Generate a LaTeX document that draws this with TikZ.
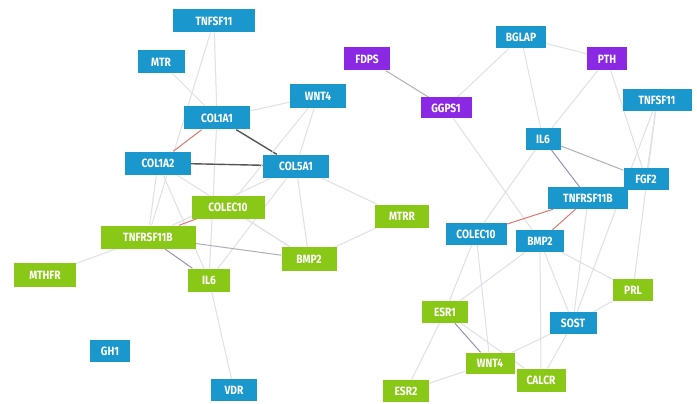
\documentclass[tikz,border=0pt]{standalone}
\usepackage{fontspec}
\newfontfamily\nodefont{Fira Sans}[FakeStretch=0.85]
\definecolor{nodeblue}{RGB}{26,152,206}
\definecolor{nodegreen}{RGB}{138,200,24}
\definecolor{nodepurple}{RGB}{138,40,228}
\definecolor{edgelight}{RGB}{224,224,230}
\definecolor{edgemid}{RGB}{175,175,185}
\definecolor{edgedark}{RGB}{85,85,90}
\definecolor{edgered}{RGB}{224,120,110}
\definecolor{edgepurp}{RGB}{155,145,180}
\pgfdeclarelayer{bg}
\pgfsetlayers{bg,main}
\begin{document}
\begin{tikzpicture}[x=1pt,y=-1pt,
  box/.style={draw=none, text=white, font=\nodefont\bfseries\fontsize{12}{12}\selectfont, minimum height=23pt, inner sep=2pt},
  bl/.style={box, fill=nodeblue},
  gr/.style={box, fill=nodegreen},
  pu/.style={box, fill=nodepurple},
  el/.style={draw=edgelight, line width=1pt},
  em/.style={draw=edgemid, line width=1pt},
  ed/.style={draw=edgedark, line width=1.4pt},
  er/.style={draw=edgered, line width=1pt},
  ep/.style={draw=edgepurp, line width=1pt}]
\useasboundingbox (0,0) rectangle (697,404);
% left cluster
\node[bl, minimum width=82pt] (tnfsfa) at (214,21) {TNFSF11};
\node[bl, minimum width=47pt] (mtr) at (161,62) {MTR};
\node[bl, minimum width=56pt, minimum height=24pt] (wnt4a) at (318,96) {WNT4};
\node[bl, minimum width=66pt] (col1a1) at (217,118) {COL1A1};
\node[bl, minimum width=66pt] (col1a2) at (158,163) {COL1A2};
\node[bl, minimum width=66pt] (col5a1) at (296,166) {COL5A1};
\node[gr, minimum width=73pt] (coleca) at (228,207) {COLEC10};
\node[gr, minimum width=95pt] (tnfrsfa) at (148,237) {TNFRSF11B};
\node[gr, minimum width=62pt, minimum height=24pt] (mthfr) at (45,275) {MTHFR};
\node[gr, minimum width=42pt] (il6a) at (209,280) {IL6};
\node[gr, minimum width=55pt, minimum height=24pt] (bmp2a) at (309,259) {BMP2};
\node[gr, minimum width=54pt] (mtrr) at (402,216) {MTRR};
\node[bl, minimum width=40pt, minimum height=22pt] (gh1) at (110,351) {GH1};
\node[bl, minimum width=46pt, minimum height=22pt] (vdr) at (234,390) {VDR};
% right cluster
\node[pu, minimum width=46pt] (fdps) at (367,59) {FDPS};
\node[pu, minimum width=51pt, minimum height=21pt] (ggps1) at (446,108) {GGPS1};
\node[bl, minimum width=50pt, minimum height=22pt] (bglap) at (521,37) {BGLAP};
\node[pu, minimum width=40pt] (pth) at (607,59) {PTH};
\node[bl, minimum width=69pt, minimum height=22pt] (tnfsfb) at (657,100) {TNFSF11};
\node[bl, minimum width=35pt, minimum height=22pt] (il6b) at (543,139) {IL6};
\node[bl, minimum width=45pt, minimum height=22pt] (fgf2) at (646,179) {FGF2};
\node[bl, minimum width=80pt, minimum height=22pt] (tnfrsfb) at (588,198) {TNFRSF11B};
\node[bl, minimum width=61pt, minimum height=22pt] (colecb) at (476,234) {COLEC10};
\node[bl, minimum width=48pt, minimum height=22pt] (bmp2b) at (540,241) {BMP2};
\node[gr, minimum width=40pt, minimum height=22pt] (prl) at (633,290) {PRL};
\node[gr, minimum width=46pt, minimum height=22pt] (esr1) at (445,312) {ESR1};
\node[bl, minimum width=47pt, minimum height=22pt] (sost) at (573,323) {SOST};
\node[gr, minimum width=49pt, minimum height=21pt] (wnt4b) at (490,363) {WNT4};
\node[gr, minimum width=49pt] (calcr) at (541,380) {CALCR};
\node[gr, minimum width=46pt, minimum height=22pt] (esr2) at (406,391) {ESR2};
\begin{pgfonlayer}{bg}
\fill[white] (0,0) rectangle (697,404);
% left edges
\draw[el] (tnfsfa) -- (col1a1);
\draw[el] (tnfsfa) -- (tnfrsfa);
\draw[el] (mtr) -- (col1a1);
\draw[el] (col1a1) -- (wnt4a);
\draw[el] (col1a1) -- (il6a);
\draw[er] (col1a1) -- (col1a2);
\draw[ed] (col1a1) -- (col5a1);
\draw[ed] (col1a2) -- (col5a1);
\draw[el] (col1a2) -- (tnfrsfa);
\draw[el] (col1a2) -- (bmp2a);
\draw[el] (col1a2) -- (il6a);
\draw[el] (col5a1) -- (bmp2a);
\draw[el] (col5a1) -- (mtrr);
\draw[el] (col5a1) -- (il6a);
\draw[el] (col5a1) -- (tnfrsfa);
\draw[el] (wnt4a) -- (col5a1);
\draw[el] (wnt4a) -- (coleca);
\draw[el] (coleca) -- (bmp2a);
\draw[er] (coleca) -- (tnfrsfa);
\draw[ep] (tnfrsfa) -- (il6a);
\draw[em] (tnfrsfa) -- (bmp2a);
\draw[el] (tnfrsfa) -- (mthfr);
\draw[el] (il6a) -- (vdr);
\draw[el] (mtrr) -- (bmp2a);
% right edges
\draw[em] (fdps) -- (ggps1);
\draw[el] (ggps1) -- (bglap);
\draw[el] (ggps1) -- (bmp2b);
\draw[el] (bglap) -- (il6b);
\draw[el] (bglap) -- (pth);
\draw[el] (pth) -- (il6b);
\draw[el] (pth) -- (fgf2);
\draw[el] (tnfsfb) -- (fgf2);
\draw[el] (tnfsfb) -- (prl);
\draw[el] (tnfsfb) -- (sost);
\draw[em] (il6b) -- (fgf2);
\draw[ep] (il6b) -- (tnfrsfb);
\draw[el] (il6b) -- (colecb);
\draw[er] (tnfrsfb) -- (colecb);
\draw[er] (tnfrsfb) -- (bmp2b);
\draw[el] (tnfrsfb) -- (sost);
\draw[el] (bmp2b) -- (prl);
\draw[el] (bmp2b) -- (sost);
\draw[el] (bmp2b) -- (calcr);
\draw[el] (bmp2b) -- (esr1);
\draw[el] (colecb) -- (esr1);
\draw[el] (colecb) -- (wnt4b);
\draw[el] (prl) -- (sost);
\draw[el] (sost) -- (wnt4b);
\draw[el] (sost) -- (calcr);
\draw[ep] (esr1) -- (wnt4b);
\draw[el] (esr1) -- (calcr);
\draw[el] (esr1) -- (esr2);
\draw[el] (wnt4b) -- (esr2);
\draw[el] (wnt4b) -- (calcr);
\end{pgfonlayer}
\end{tikzpicture}
\end{document}
